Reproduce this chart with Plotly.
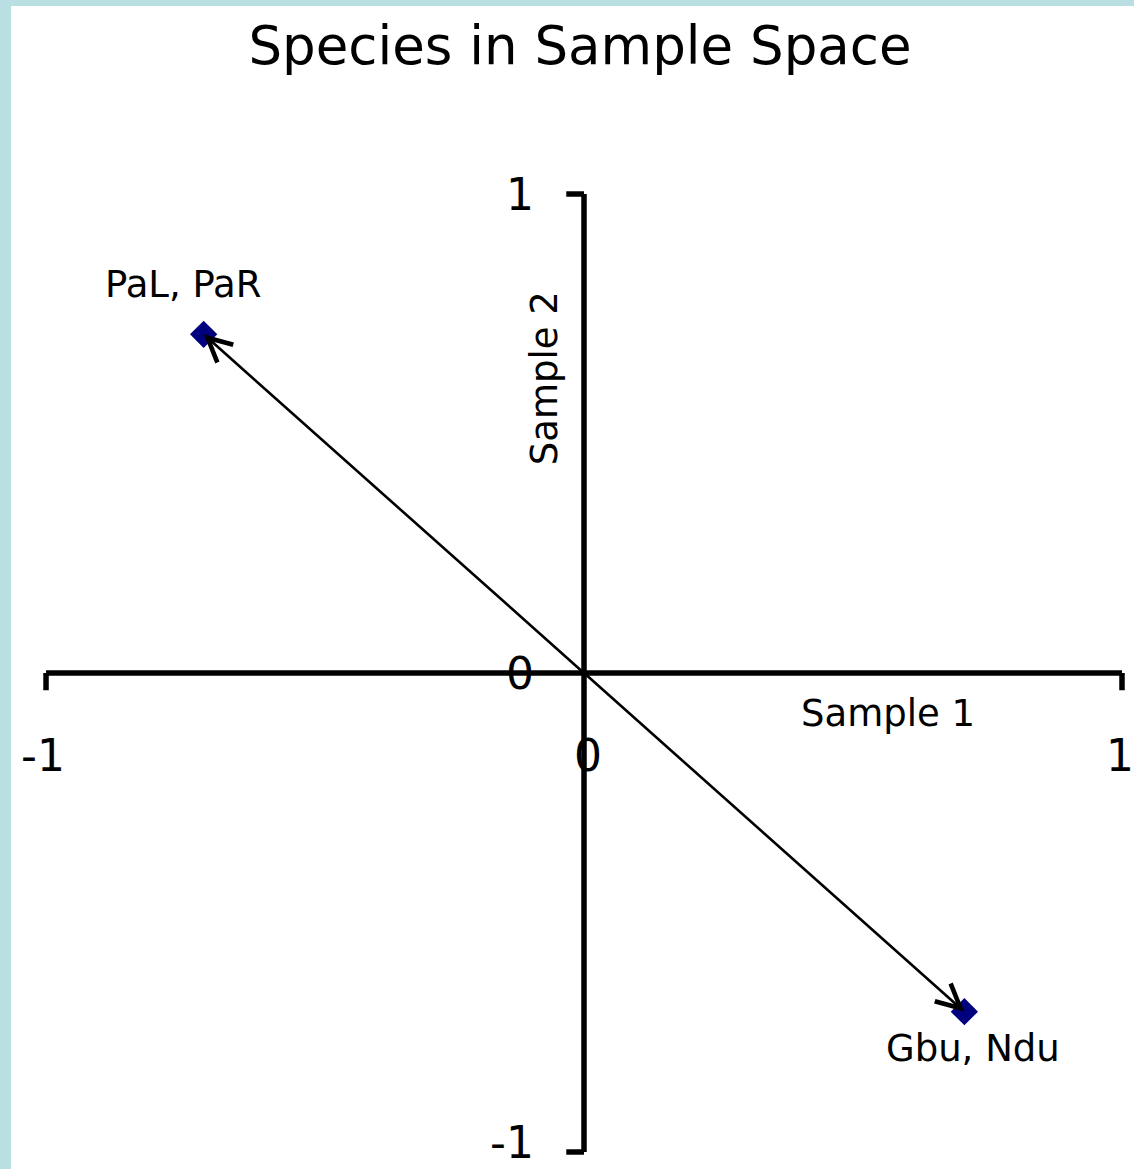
import plotly.graph_objects as go

# Species vectors plotted in the space of the two samples
species_labels = ["PaL, PaR", "Gbu, Ndu"]
sample1 = [-0.707, 0.707]
sample2 = [0.707, -0.707]

tick_values = [-1, 0, 1]
tick_text = ["-1", "0", "1"]

FONT = "DejaVu Sans"
BORDER = "#b9dfe3"

fig = go.Figure()

# Navy diamond at the tip of each vector
fig.add_trace(go.Scatter(
    x=sample1, y=sample2, mode="markers",
    marker=dict(symbol="diamond", size=21, color="#00007f",
                line=dict(width=0)),
    hoverinfo="text", text=species_labels, showlegend=False,
))

lo, hi = tick_values[0], tick_values[-1]
shapes = [
    # horizontal axis with downward hooks at its ends
    dict(type="line", x0=lo, x1=hi, y0=0, y1=0),
    dict(type="line", x0=lo, x1=lo, y0=0, y1=-0.036),
    dict(type="line", x0=hi, x1=hi, y0=0, y1=-0.036),
    # vertical axis with leftward hooks at its ends
    dict(type="line", x0=0, x1=0, y0=lo, y1=hi),
    dict(type="line", x0=0, x1=-0.033, y0=hi, y1=hi),
    dict(type="line", x0=0, x1=-0.033, y0=lo, y1=lo),
]
for s in shapes:
    s.update(xref="x", yref="y", line=dict(color="black", width=5.5))
fig.update_layout(shapes=shapes)

annotations = []
# arrows from the origin to each species point
for xv, yv in zip(sample1, sample2):
    annotations.append(dict(
        x=xv, y=yv, ax=0, ay=0, xref="x", yref="y", axref="x", ayref="y",
        text="", showarrow=True, arrowhead=5, arrowsize=1.8, arrowwidth=2.6,
        arrowcolor="black", standoff=0,
    ))

# species labels next to the points
label_offsets = [(-20, 50), (9, -37)]
for name, xv, yv, (dx, dy) in zip(species_labels, sample1, sample2, label_offsets):
    annotations.append(dict(
        x=xv, y=yv, xref="x", yref="y", text=name, showarrow=False,
        xshift=dx, yshift=dy, font=dict(family=FONT, size=37, color="black"),
    ))

# tick labels along each axis
for v, t in zip(tick_values, tick_text):
    annotations.append(dict(
        x=v, y=0, xref="x", yref="y", text=t, showarrow=False,
        yshift=-82, xshift=(-3 if v == lo else (-2 if v == hi else 4)),
        font=dict(family=FONT, size=44, color="black"),
    ))
    annotations.append(dict(
        x=0, y=v, xref="x", yref="y", text=t, showarrow=False,
        xanchor="right", xshift=-48, yshift=(10 if v == lo else 0),
        font=dict(family=FONT, size=44, color="black"),
    ))

# axis titles
annotations.append(dict(
    x=0.565, y=-0.084, xref="x", yref="y", text="Sample 1", showarrow=False,
    font=dict(family=FONT, size=37, color="black"),
))
annotations.append(dict(
    x=-0.072, y=0.616, xref="x", yref="y", text="Sample 2", showarrow=False,
    textangle=-90, font=dict(family=FONT, size=37, color="black"),
))

fig.update_layout(
    annotations=annotations,
    width=1134, height=1169,
    margin=dict(l=11, r=0, t=6, b=0, pad=0),
    paper_bgcolor=BORDER, plot_bgcolor="white",
    title=dict(text="Species in Sample Space", x=580 / 1134, xanchor="center",
               y=1 - 45 / 1169, yanchor="middle",
               font=dict(family=FONT, size=53, color="black")),
    xaxis=dict(range=[-1.0651, 1.0223], visible=False, fixedrange=True),
    yaxis=dict(range=[-1.0355, 1.3925], visible=False, fixedrange=True),
    showlegend=False,
)

fig.write_html("out.html", config={"displayModeBar": False})
